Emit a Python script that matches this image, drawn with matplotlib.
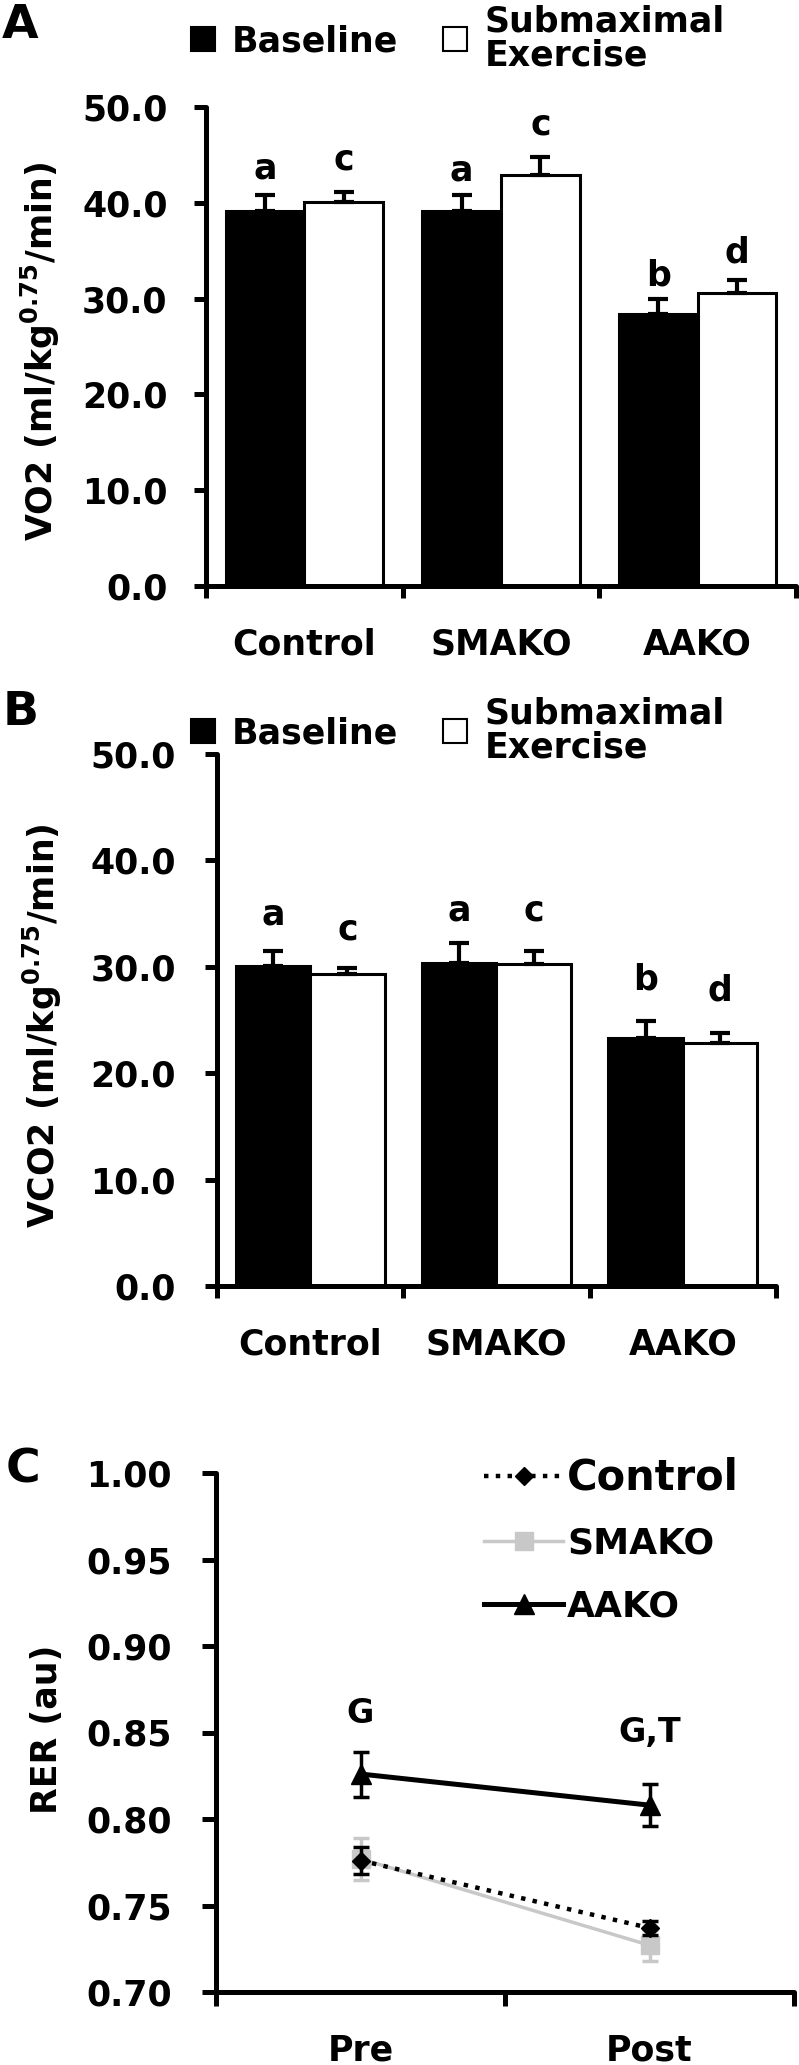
import matplotlib
matplotlib.use('Agg')
import matplotlib.pyplot as plt
from matplotlib.patches import Patch
from matplotlib.lines import Line2D
import numpy as np

# ---------------- data ----------------
groups = ['Control', 'SMAKO', 'AAKO']
series_labels = ['Baseline', 'Submaximal\nExercise']

vo2_base = [39.1, 39.1, 28.4]
vo2_base_err = [1.7, 1.7, 1.6]
vo2_ex = [40.1, 42.9, 30.6]
vo2_ex_err = [1.0, 1.9, 1.3]
vo2_base_letters = ['a', 'a', 'b']
vo2_ex_letters = ['c', 'c', 'd']
vo2_base_letter_y = [43.6, 43.4, 32.4]
vo2_ex_letter_y = [44.5, 48.2, 34.8]

vco2_base = [30.1, 30.4, 23.3]
vco2_base_err = [1.4, 1.8, 1.6]
vco2_ex = [29.3, 30.3, 22.8]
vco2_ex_err = [0.6, 1.2, 1.0]
vco2_base_letters = ['a', 'a', 'b']
vco2_ex_letters = ['c', 'c', 'd']
vco2_base_letter_y = [34.9, 35.3, 28.8]
vco2_ex_letter_y = [33.5, 35.3, 27.8]

times = ['Pre', 'Post']
rer_control = [0.776, 0.737]
rer_control_err = [0.008, 0.004]
rer_smako = [0.777, 0.727]
rer_smako_err = [0.012, 0.009]
rer_aako = [0.826, 0.808]
rer_aako_err = [0.013, 0.012]
rer_letters = ['G', 'G,T']
rer_letter_y = [0.861, 0.850]

# ---------------- style ----------------
plt.rcParams['font.family'] = ['DejaVu Sans']
plt.rcParams['font.weight'] = 'bold'
plt.rcParams['axes.labelweight'] = 'bold'

W, H = 799, 2065
fig = plt.figure(figsize=(W / 100, H / 100), dpi=100)

SPINE_LW = 3.6


def px_axes(left, right, top, bottom):
    return fig.add_axes([left / W, 1 - bottom / H, (right - left) / W, (bottom - top) / H])


def style_axes(ax, ypad, ticklen=8.6):
    for s in ['top', 'right']:
        ax.spines[s].set_visible(False)
    for s in ['left', 'bottom']:
        ax.spines[s].set_linewidth(SPINE_LW)
        ax.spines[s].set_capstyle('round')
    ax.tick_params(axis='both', which='major', direction='out', length=ticklen,
                   width=SPINE_LW, labelsize=25, pad=ypad)


def bar_panel(ax, base, berr, ex, eerr, bl, el, bly, ely, ylabel, ypad, label_x, label_y):
    x = np.arange(len(groups))
    w = 0.4
    ax.bar(x - w / 2, base, w, color='black', edgecolor='black', linewidth=2.2, zorder=2)
    ax.bar(x + w / 2, ex, w, color='white', edgecolor='black', linewidth=2.2, zorder=2)
    ax.errorbar(x - w / 2, base, yerr=[np.zeros(len(base)), berr], fmt='none',
                ecolor='black', elinewidth=3, capsize=7, capthick=3, zorder=3)
    ax.errorbar(x + w / 2, ex, yerr=[np.zeros(len(ex)), eerr], fmt='none',
                ecolor='black', elinewidth=3, capsize=7, capthick=3, zorder=3)
    for i in range(len(groups)):
        ax.text(x[i] - w / 2, bly[i], bl[i], ha='center', va='center',
                fontsize=25, fontweight='bold')
        ax.text(x[i] + w / 2, ely[i], el[i], ha='center', va='center',
                fontsize=25, fontweight='bold')
    ax.set_xlim(-0.5, len(groups) - 0.5)
    ax.set_ylim(0, 50)
    ax.set_yticks(np.arange(0, 50.1, 10))
    ax.set_yticklabels(['%.1f' % v for v in np.arange(0, 50.1, 10)])
    ax.set_xticks(np.arange(-0.5, len(groups), 1.0))
    ax.set_xticklabels([])
    ax.set_xticks(x, minor=True)
    ax.set_xticklabels(groups, minor=True)
    style_axes(ax, ypad)
    ax.tick_params(axis='x', which='minor', length=0, pad=30, labelsize=25)
    ax.set_ylabel(ylabel, fontsize=25, fontweight='bold')
    ax.yaxis.set_label_coords(label_x, label_y)


def bar_legend(ax, ycenter_px):
    handles = [Patch(facecolor='black', edgecolor='black', linewidth=1.5),
               Patch(facecolor='white', edgecolor='black', linewidth=1.5)]
    leg = ax.legend(handles, series_labels, ncol=2, frameon=False,
                    loc='center left', bbox_to_anchor=(191 / W, 1 - ycenter_px / H),
                    bbox_transform=fig.transFigure, borderpad=0, borderaxespad=0,
                    handlelength=0.68, handleheight=0.68, handletextpad=0.5,
                    columnspacing=1.3, prop={'size': 25, 'weight': 'bold'})
    for t in leg.get_texts():
        t.set_linespacing(1.0)
    return leg


# Panel A
axA = px_axes(206, 796, 107, 586)
bar_panel(axA, vo2_base, vo2_base_err, vo2_ex, vo2_ex_err,
          vo2_base_letters, vo2_ex_letters, vo2_base_letter_y, vo2_ex_letter_y,
          r'VO2 (ml/kg$^{\mathbf{0.75}}$/min)', 19, -0.244, 0.49)
bar_legend(axA, 38)
fig.text(20 / W, 1 - 25 / H, 'A', fontsize=34, fontweight='bold', ha='center', va='center')

# Panel B
axB = px_axes(217, 776, 754, 1286)
bar_panel(axB, vco2_base, vco2_base_err, vco2_ex, vco2_ex_err,
          vco2_base_letters, vco2_ex_letters, vco2_base_letter_y, vco2_ex_letter_y,
          r'VCO2 (ml/kg$^{\mathbf{0.75}}$/min)', 21, -0.274, 0.49)
bar_legend(axB, 730)
fig.text(21 / W, 1 - 713 / H, 'B', fontsize=34, fontweight='bold', ha='center', va='center')

# Panel C
axC = px_axes(216, 794, 1473, 1992)
xs = np.arange(len(times))
axC.errorbar(xs, rer_control, yerr=rer_control_err, color='black', linestyle=':',
             linewidth=3.2, marker='D', markersize=9, capsize=6, capthick=2.5,
             elinewidth=2.5, zorder=3)
axC.errorbar(xs, rer_smako, yerr=rer_smako_err, color='#c8c8c8', linestyle='-',
             linewidth=2.5, marker='s', markersize=13, capsize=6, capthick=2.5,
             elinewidth=2.5, zorder=2)
axC.errorbar(xs, rer_aako, yerr=rer_aako_err, color='black', linestyle='-',
             linewidth=3.6, marker='^', markersize=14, capsize=6, capthick=2.5,
             elinewidth=2.5, zorder=4)
for i in range(len(times)):
    axC.text(xs[i], rer_letter_y[i], rer_letters[i], ha='center', va='center',
             fontsize=24, fontweight='bold')
axC.set_xlim(-0.5, len(times) - 0.5)
axC.set_ylim(0.70, 1.00)
yt = np.arange(0.70, 1.0001, 0.05)
axC.set_yticks(yt)
axC.set_yticklabels(['%.2f' % v for v in yt])
axC.set_xticks(np.arange(-0.5, len(times), 1.0))
axC.set_xticklabels([])
axC.set_xticks(xs, minor=True)
axC.set_xticklabels(times, minor=True)
style_axes(axC, 22, ticklen=10)
axC.tick_params(axis='x', which='minor', length=0, pad=30, labelsize=25)
axC.set_ylabel('RER (au)', fontsize=25, fontweight='bold')
axC.yaxis.set_label_coords(-0.263, 0.507)

hC = [Line2D([], [], color='black', linestyle=':', linewidth=3.2, marker='D', markersize=9),
      Line2D([], [], color='#c8c8c8', linestyle='-', linewidth=2.5, marker='s', markersize=13),
      Line2D([], [], color='black', linestyle='-', linewidth=3.6, marker='^', markersize=14)]
legC = axC.legend(hC, groups, frameon=False, loc='upper left',
                  bbox_to_anchor=(484 / W, 1 - 1456 / H), bbox_transform=fig.transFigure,
                  borderpad=0, borderaxespad=0, handlelength=2.2, handletextpad=0.1,
                  labelspacing=0.8, numpoints=1, prop={'size': 26, 'weight': 'bold'})
legC.get_texts()[0].set_fontsize(30)
fig.text(23 / W, 1 - 1470 / H, 'C', fontsize=34, fontweight='bold', ha='center', va='center')

fig.savefig('out.png', dpi=100)
